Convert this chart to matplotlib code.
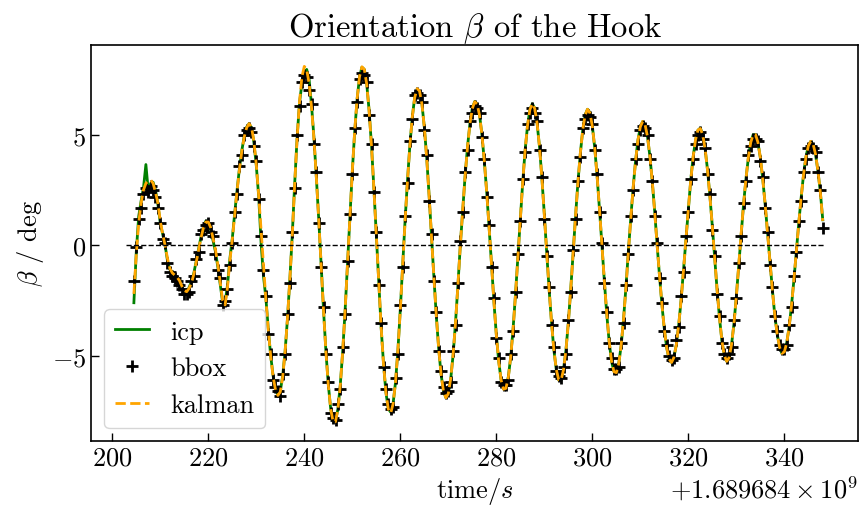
import numpy as np
import matplotlib
matplotlib.use("Agg")
import matplotlib.pyplot as plt
from matplotlib.ticker import MultipleLocator

plt.rcParams['font.family'] = 'serif'
plt.rcParams['font.serif'] = ['cmr10']
plt.rcParams['mathtext.fontset'] = 'cm'
plt.rcParams['axes.formatter.use_mathtext'] = True

# time since offset, one sample every 0.5 s
t0 = 1.689684e9
t_rel = np.arange(204.5, 348.01, 0.5)

kalman = [
    -2.2, -0.4, 1.0, 1.9, 2.5, 2.8, 2.9, 2.95, 2.8, 2.4,
    1.9, 1.1, 0.5, 0.0, -0.6, -1.05, -1.25, -1.35, -1.45, -1.6,
    -1.85, -2.05, -2.1, -1.95, -1.7, -1.3, -0.75, -0.2, 0.35, 0.8,
    1.05, 1.05, 0.8, 0.3, -0.2, -0.9, -1.7, -2.5, -2.7, -1.9,
    -0.7, 0.25, 1.39, 2.48, 3.45, 4.28, 4.91, 5.32, 5.5, 5.34,
    4.70, 3.64, 2.25, 0.66, -0.94, -2.46, -3.84, -5.02, -5.94, -6.54,
    -6.79, -6.63, -5.95, -4.81, -3.28, -1.52, 0.47, 2.77, 4.84, 6.49,
    7.61, 8.09, 7.94, 7.32, 6.26, 4.83, 3.10, 1.18, -0.85, -2.93,
    -4.80, -6.33, -7.41, -7.98, -7.98, -7.41, -6.33, -4.80, -2.94, -0.85,
    1.29, 3.35, 5.17, 6.63, 7.62, 8.07, 7.96, 7.29, 6.09, 4.48,
    2.54, 0.44, -1.69, -3.68, -5.37, -6.65, -7.41, -7.59, -7.17, -6.19,
    -4.74, -2.91, -0.85, 1.13, 2.93, 4.53, 5.81, 6.68, 7.08, 6.98,
    6.39, 5.34, 3.93, 2.23, 0.38, -1.46, -3.18, -4.68, -5.85, -6.61,
    -6.90, -6.71, -6.03, -4.95, -3.50, -1.82, 0.0, 1.62, 3.13, 4.45,
    5.49, 6.18, 6.49, 6.39, 5.88, 5.01, 3.82, 2.39, 0.81, -0.87,
    -2.55, -4.04, -5.26, -6.10, -6.51, -6.47, -5.97, -5.04, -3.77, -2.22,
    -0.52, 1.22, 2.87, 4.31, 5.42, 6.14, 6.40, 6.18, 5.51, 4.43,
    3.02, 1.38, -0.34, -2.00, -3.50, -4.75, -5.63, -6.09, -6.09, -5.63,
    -4.75, -3.50, -2.00, -0.34, 1.30, 2.84, 4.17, 5.22, 5.89, 6.15,
    5.98, 5.38, 4.41, 3.12, 1.62, 0.0, -1.61, -3.08, -4.33, -5.23,
    -5.72, -5.76, -5.36, -4.53, -3.36, -1.92, -0.32, 1.18, 2.58, 3.80,
    4.75, 5.36, 5.60, 5.44, 4.90, 4.02, 2.84, 1.48, 0.0, -1.39,
    -2.69, -3.80, -4.64, -5.15, -5.30, -5.07, -4.49, -3.59, -2.45, -1.12,
    0.28, 1.66, 2.93, 3.99, 4.77, 5.21, 5.28, 4.99, 4.34, 3.38,
    2.19, 0.84, -0.60, -2.04, -3.32, -4.33, -4.99, -5.25, -5.08, -4.49,
    -3.55, -2.32, -0.89, 0.54, 1.84, 3.01, 3.97, 4.65, 5.00, 5.00,
    4.65, 3.97, 3.01, 1.84, 0.54, -0.78, -2.02, -3.13, -4.01, -4.61,
    -4.89, -4.82, -4.41, -3.68, -2.71, -1.54, -0.26, 0.99, 2.17, 3.19,
    3.99, 4.50, 4.70, 4.57, 4.11, 3.37, 2.39, 1.1,
]

icp = [
    -2.6, -0.3, 1.3, 2.0, 2.6, 3.65, 2.45, 2.8, 2.85, 2.5,
    1.85, 1.0, 0.5, 0.0, -0.7, -1.1, -1.2, -1.35, -1.5, -1.65,
    -1.9, -2.1, -2.15, -1.9, -1.65, -1.25, -0.7, -0.15, 0.4, 0.85,
    1.1, 1.0, 0.7, 0.2, -0.3, -1.0, -1.8, -2.6, -2.6, -1.8,
    -0.6, 0.3, 1.45, 2.5, 3.5, 4.3, 4.95, 5.35, 5.5, 5.3,
    4.65, 3.6, 2.2, 0.1, -1.4, -2.4, -3.8, -5.0, -5.9, -6.5,
    -6.8, -6.6, -5.9, -4.8, -3.3, -1.5, 0.5, 2.8, 4.85, 6.45,
    7.3, 7.7, 7.95, 7.5, 6.35, 4.9, 3.1, 1.2, -0.85, -2.9,
    -4.8, -6.3, -7.4, -7.95, -7.95, -7.4, -6.3, -4.8, -2.95, -0.85,
    1.3, 3.35, 5.15, 6.6, 7.6, 8.05, 7.95, 7.3, 6.1, 4.5,
    2.55, 0.45, -1.7, -3.7, -5.35, -6.65, -7.4, -7.55, -7.15, -6.2,
    -4.75, -2.9, -0.85, 1.15, 2.95, 4.55, 5.8, 6.7, 7.05, 6.95,
    6.4, 5.35, 3.95, 2.25, 0.4, -1.45, -3.2, -4.7, -5.85, -6.6,
    -6.9, -6.7, -6.05, -4.95, -3.5, -1.8, 0.0, 1.6, 3.15, 4.45,
    5.5, 6.2, 6.5, 6.4, 5.9, 5.0, 3.8, 2.4, 0.8, -0.85,
    -2.55, -4.05, -5.25, -6.1, -6.5, -6.45, -5.95, -5.05, -3.75, -2.2,
    -0.5, 1.2, 2.85, 4.3, 5.4, 6.15, 6.4, 6.2, 5.5, 4.45,
    3.0, 1.4, -0.35, -2.0, -3.5, -4.75, -5.65, -6.1, -6.1, -5.6,
    -4.75, -3.5, -2.0, -0.35, 1.3, 2.85, 4.15, 5.2, 5.9, 6.15,
    6.0, 5.4, 4.4, 3.1, 1.6, 0.0, -1.6, -3.1, -4.35, -5.25,
    -5.7, -5.75, -5.35, -4.55, -3.35, -1.9, -0.3, 1.2, 2.6, 3.8,
    4.75, 5.35, 5.6, 5.45, 4.9, 4.0, 2.85, 1.5, 0.0, -1.4,
    -2.7, -3.8, -4.65, -5.15, -5.3, -5.05, -4.5, -3.6, -2.45, -1.1,
    0.3, 1.65, 2.95, 4.0, 4.75, 5.2, 5.3, 5.0, 4.35, 3.4,
    2.2, 0.85, -0.6, -2.05, -3.3, -4.35, -5.0, -5.25, -5.1, -4.5,
    -3.55, -2.3, -0.9, 0.55, 1.85, 3.0, 3.95, 4.65, 5.0, 5.0,
    4.65, 3.95, 3.0, 1.85, 0.55, -0.8, -2.0, -3.15, -4.0, -4.6,
    -4.9, -4.8, -4.4, -3.7, -2.7, -1.55, -0.25, 1.0, 2.15, 3.2,
    4.0, 4.5, 4.7, 4.55, 4.1, 3.35, 2.4, 1.15,
]

bbox = [
    -1.6, -0.1, 1.2, 1.7, 2.3, 2.6, 2.4, 2.7, 2.5, 2.2,
    1.7, 1.0, 0.3, 0.1, -0.8, -1.2, -1.4, -1.5, -1.6, -1.8,
    -2.0, -2.2, -2.2, -2.1, -1.6, -1.4, -0.6, -0.3, 0.5, 0.7,
    0.9, 1.0, 0.6, 0.4, -0.4, -1.1, -1.5, -2.7, -2.5, -2.0,
    -0.9, 0.1, 1.5, 2.3, 3.6, 4.1, 5.0, 5.2, 5.3, 5.1,
    4.5, 3.8, 2.1, 0.4, -1.1, -2.3, -4.0, -4.9, -6.1, -6.4,
    -6.6, -6.8, -5.8, -4.9, -3.1, -1.7, 0.6, 2.6, 5.0, 6.3,
    7.4, 7.7, 7.6, 7.0, 6.4, 4.6, 3.3, 1.0, -1.0, -2.8,
    -4.9, -6.2, -7.6, -7.8, -7.9, -7.2, -6.5, -4.6, -3.1, -0.7,
    1.4, 3.2, 5.3, 6.5, 7.5, 7.8, 7.7, 7.4, 5.9, 4.6,
    2.4, 0.6, -1.8, -3.5, -5.5, -6.5, -7.2, -7.4, -7.3, -6.0,
    -4.9, -2.7, -1.0, 1.3, 2.8, 4.7, 5.7, 6.8, 6.9, 6.8,
    6.5, 5.2, 4.1, 2.0, 0.5, -1.6, -3.0, -4.8, -5.7, -6.4,
    -6.7, -6.6, -6.2, -4.8, -3.6, -1.7, 0.2, 1.5, 3.3, 4.3,
    5.6, 6.0, 6.3, 6.2, 6.0, 4.9, 3.9, 2.2, 0.9, -1.0,
    -2.4, -4.2, -5.1, -6.2, -6.3, -6.3, -6.1, -4.9, -3.9, -2.1,
    -0.4, 1.1, 3.0, 4.2, 5.5, 6.0, 6.2, 6.0, 5.6, 4.3,
    3.1, 1.2, -0.5, -1.9, -3.6, -4.6, -5.7, -5.9, -6.0, -5.5,
    -4.9, -3.4, -2.1, -0.2, 1.2, 2.9, 4.0, 5.3, 5.7, 5.9,
    5.8, 5.5, 4.3, 3.2, 1.5, 0.1, -1.7, -3.0, -4.4, -5.1,
    -5.6, -5.6, -5.5, -4.4, -3.5, -1.8, -0.4, 1.3, 2.5, 3.9,
    4.6, 5.2, 5.4, 5.3, 5.0, 3.9, 2.9, 1.3, 0.1, -1.5,
    -2.6, -3.9, -4.5, -5.0, -5.2, -5.1, -4.3, -3.7, -2.3, -1.2,
    0.4, 1.5, 3.0, 3.9, 4.6, 5.0, 5.1, 4.8, 4.4, 3.2,
    2.3, 0.7, -0.5, -2.2, -3.2, -4.4, -4.9, -5.1, -4.9, -4.6,
    -3.4, -2.4, -0.8, 0.4, 1.9, 2.9, 4.1, 4.5, 4.8, 4.8,
    4.7, 3.8, 3.1, 1.7, 0.6, -0.9, -1.9, -3.2, -3.9, -4.5,
    -4.7, -4.7, -4.5, -3.6, -2.8, -1.4, -0.3, 1.1, 2.0, 3.3,
    3.9, 4.4, 4.5, 4.4, 4.2, 3.3, 2.5, 0.8,
]

zero_span = [202.9, 348.2]

assert len(kalman) == len(t_rel) == len(icp) == len(bbox)

t = t0 + t_rel

fig, ax = plt.subplots(figsize=(8.6, 5.1), dpi=100)
fig.subplots_adjust(left=0.106, right=0.998, top=0.91, bottom=0.133)

ax.plot(t, icp, color='green', lw=2, label='icp')
ax.plot(t, bbox, '+', color='black', ms=8, mew=2, label='bbox')
ax.plot(t, kalman, '--', color='orange', lw=2, label='kalman')
ax.hlines(0, t0 + zero_span[0], t0 + zero_span[1], color='black',
          linestyles='--', lw=1)

ax.set_xlim(t0 + 195.6, t0 + 355.4)
ax.set_ylim(-8.86, 9.06)
ax.yaxis.set_major_locator(MultipleLocator(5))
ax.tick_params(direction='in', labelsize=19, length=6, width=1)
ax.xaxis.get_offset_text().set_fontsize(19)
for s in ax.spines.values():
    s.set_linewidth(1.2)

ax.set_title(r'Orientation $\beta$ of the Hook', fontsize=23.5)
ax.set_xlabel(r'time/$s$', fontsize=19)
ax.set_ylabel(r'$\beta$ / deg', fontsize=19)
ax.legend(loc='lower left', fontsize=19, handlelength=1.3)

fig.savefig('out.png')
